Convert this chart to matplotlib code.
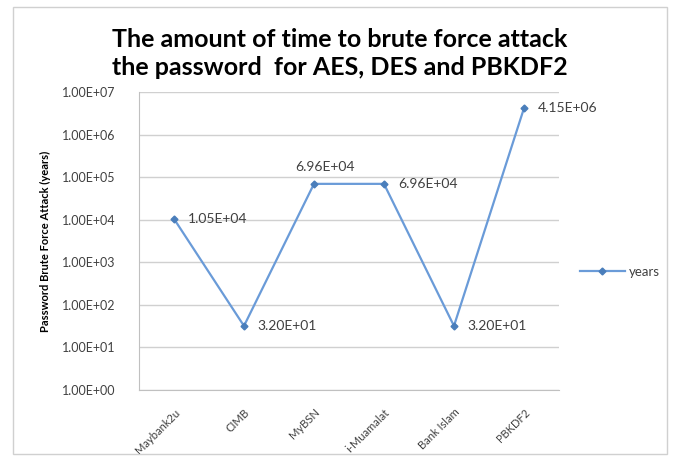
import matplotlib.pyplot as plt
import matplotlib.patches as patches
import numpy as np

banks = ['Maybank2u', 'CIMB', 'MyBSN', 'i-Muamalat', 'Bank Islam', 'PBKDF2']
years = [1.05e4, 3.20e1, 6.96e4, 6.96e4, 3.20e1, 4.15e6]
labels = ['1.05E+04', '3.20E+01', '6.96E+04', '6.96E+04', '3.20E+01', '4.15E+06']
ytick_vals = [1e0, 1e1, 1e2, 1e3, 1e4, 1e5, 1e6, 1e7]

plt.rcParams['font.family'] = ['Lato', 'DejaVu Sans']

fig = plt.figure(figsize=(6.8, 4.61), dpi=100)
fig.patches.append(patches.Rectangle((0.019, 0.015), 0.962, 0.970, transform=fig.transFigure,
                                     fill=False, edgecolor='#d0d0d0', linewidth=1))

ax = fig.add_axes([0.2044, 0.154, 0.6176, 0.6464])
x = np.arange(len(banks))
ax.plot(x, years, color='#6a9bd8', linewidth=1.6, marker='D', markersize=3.5,
        markerfacecolor='#4a7ebb', markeredgecolor='#4a7ebb', label='years')

ax.set_yscale('log')
ax.set_ylim(1, 1e7)
ax.set_xlim(-0.5, len(banks) - 0.5)
ax.set_yticks(ytick_vals)
ax.set_yticklabels(['1.00E+%02d' % int(np.log10(v)) for v in ytick_vals])
ax.minorticks_off()
ax.yaxis.grid(True, color='#d0d0d0', linewidth=1)
ax.set_axisbelow(True)
ax.set_xticks(x)
ax.set_xticklabels(banks, rotation=45, ha='right', rotation_mode='anchor')
ax.tick_params(axis='both', colors='#404040', length=0)
ax.tick_params(axis='y', labelsize=9, pad=17)
ax.tick_params(axis='x', labelsize=8, pad=12)
for s in ['top', 'right']:
    ax.spines[s].set_visible(False)
for s in ['left', 'bottom']:
    ax.spines[s].set_color('#c0c0c0')

ax.set_ylabel('Password Brute Force Attack (years)', fontsize=8, fontweight='bold', labelpad=8)

for i, (v, t) in enumerate(zip(years, labels)):
    if i == 2:
        ax.annotate(t, (x[i], v), xytext=(8, 12), textcoords='offset points',
                    ha='center', va='center', fontsize=10, color='#404040')
    else:
        ax.annotate(t, (x[i], v), xytext=(10, 0), textcoords='offset points',
                    ha='left', va='center', fontsize=10, color='#404040')

ax.legend(loc='center left', bbox_to_anchor=(0.835, 0.41), bbox_transform=fig.transFigure,
          frameon=False, fontsize=9.5, handlelength=3.4, handletextpad=0.3,
          labelcolor='#404040')

fig.suptitle('The amount of time to brute force attack\nthe password  for AES, DES and PBKDF2',
             x=0.5, y=0.94, va='top', fontsize=18, fontweight='bold', linespacing=1.3)

fig.savefig('out.png', dpi=100)
